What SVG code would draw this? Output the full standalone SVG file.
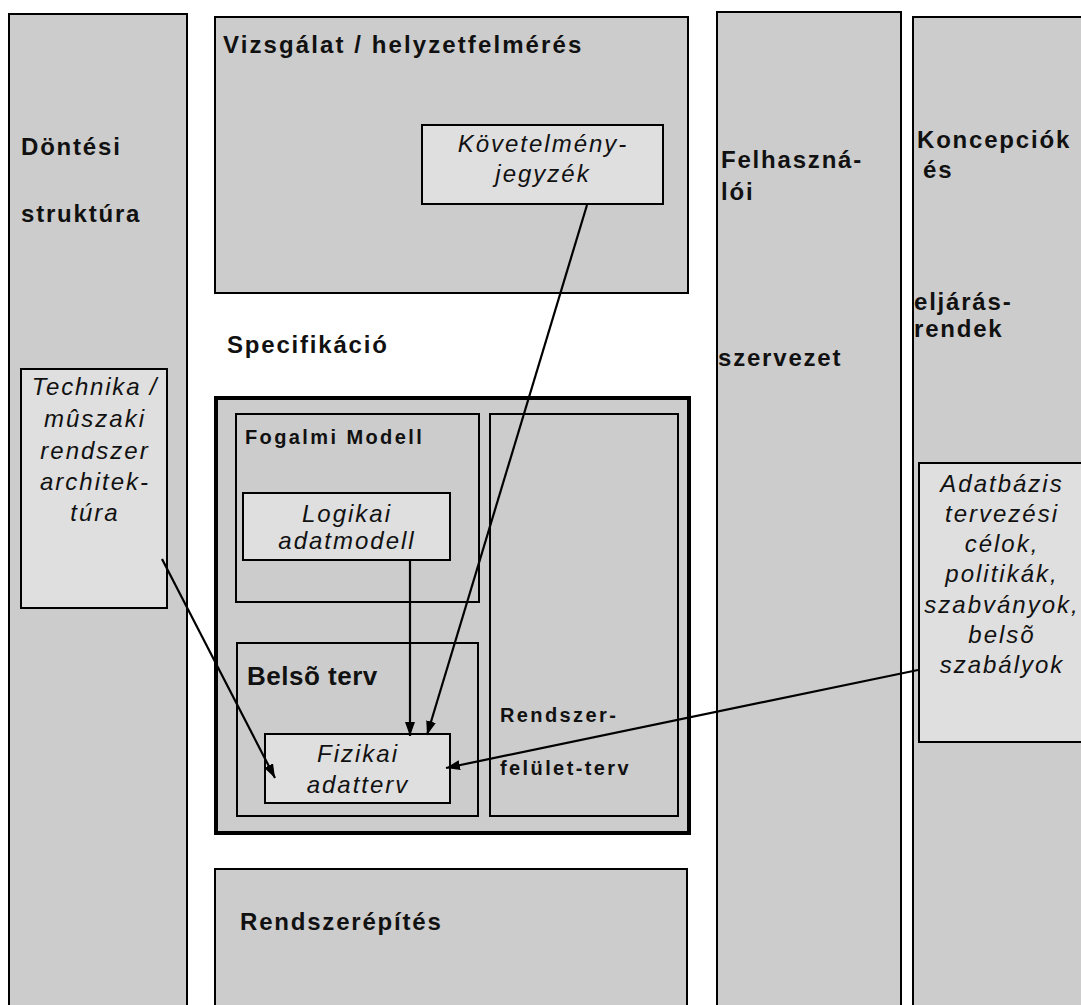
<svg xmlns="http://www.w3.org/2000/svg" width="1081" height="1005" viewBox="0 0 1081 1005">
  <defs>
    <marker id="arrow" markerUnits="userSpaceOnUse" markerWidth="15" markerHeight="11" refX="14" refY="5" orient="auto">
      <path d="M0,0 L14,5 L0,10 Z" fill="#000"/>
    </marker>
    <style>
      .panel { fill: #cccccc; stroke: #000; stroke-width: 2; }
      .frame { fill: #cccccc; stroke: #000; stroke-width: 4; }
      .item  { fill: #dfdfdf; stroke: #000; stroke-width: 2; }
      .lbl   { font-family: "Liberation Sans", Arial, sans-serif; font-weight: bold; font-size: 24px; letter-spacing: 1.8px; fill: #111; }
      .lbl-s { font-size: 20px; letter-spacing: 2.4px; }
      .doc   { font-family: "Liberation Sans", Arial, sans-serif; font-style: italic; font-size: 24px; letter-spacing: 2px; fill: #111; text-anchor: middle; }
      .link  { stroke: #000; stroke-width: 2.2; fill: none; marker-end: url(#arrow); }
    </style>
  </defs>

  <rect width="1081" height="1005" fill="#fff"/>

  <!-- side columns -->
  <g id="dontesi-struktura">
    <rect class="panel" x="9" y="14" width="178" height="1000"/>
    <text class="lbl" x="21" y="155">Döntési</text>
    <text class="lbl" x="21" y="222">struktúra</text>
  </g>

  <g id="felhasznaloi-szervezet">
    <rect class="panel" x="717" y="12" width="184" height="1000"/>
    <text class="lbl" x="721" y="168">Felhaszná-</text>
    <text class="lbl" x="721" y="200">lói</text>
    <text class="lbl" x="718" y="366">szervezet</text>
  </g>

  <g id="koncepciok">
    <rect class="panel" x="913" y="17" width="180" height="1000"/>
    <text class="lbl" x="917" y="148">Koncepciók</text>
    <text class="lbl" x="923" y="178">és</text>
    <text class="lbl" x="914" y="310">eljárás-</text>
    <text class="lbl" x="914" y="337">rendek</text>
  </g>

  <!-- analysis phase -->
  <g id="vizsgalat">
    <rect class="panel" x="215" y="17" width="473" height="276"/>
    <text class="lbl" x="223" y="53" style="letter-spacing:2.1px">Vizsgálat / helyzetfelmérés</text>
  </g>

  <g id="kovetelmenyjegyzek">
    <rect class="item" x="422" y="125" width="241" height="79"/>
    <text class="doc" x="543" y="152">Követelmény-</text>
    <text class="doc" x="543" y="182">jegyzék</text>
  </g>

  <!-- specification phase -->
  <g id="specifikacio">
    <text class="lbl" x="227" y="353" style="letter-spacing:1.8px">Specifikáció</text>
    <rect class="frame" x="216" y="398" width="473" height="435"/>
  </g>

  <g id="fogalmi-modell">
    <rect class="panel" x="236" y="414" width="243" height="188"/>
    <text class="lbl lbl-s" x="245" y="444">Fogalmi Modell</text>
  </g>

  <g id="logikai-adatmodell">
    <rect class="item" x="243" y="493" width="207" height="67"/>
    <text class="doc" x="347" y="522">Logikai</text>
    <text class="doc" x="347" y="549">adatmodell</text>
  </g>

  <g id="belso-terv">
    <rect class="panel" x="237" y="643" width="241" height="173"/>
    <text class="lbl" x="247" y="685" style="font-size:26px;letter-spacing:0.5px">Belsõ terv</text>
  </g>

  <g id="fizikai-adatterv">
    <rect class="item" x="265" y="734" width="185" height="69"/>
    <text class="doc" x="358" y="762">Fizikai</text>
    <text class="doc" x="358" y="793">adatterv</text>
  </g>

  <g id="rendszerfelulet-terv">
    <rect class="panel" x="490" y="414" width="188" height="402"/>
    <text class="lbl lbl-s" x="500" y="722">Rendszer-</text>
    <text class="lbl lbl-s" x="500" y="775">felület-terv</text>
  </g>

  <!-- construction phase -->
  <g id="rendszerepites">
    <rect class="panel" x="215" y="869" width="472" height="150"/>
    <text class="lbl" x="240" y="930">Rendszerépítés</text>
  </g>

  <!-- reference documents -->
  <g id="technika">
    <rect class="item" x="21" y="369" width="146" height="239"/>
    <text class="doc" x="95" y="395" style="letter-spacing:1.8px">Technika /</text>
    <text class="doc" x="95" y="427">mûszaki</text>
    <text class="doc" x="95" y="459">rendszer</text>
    <text class="doc" x="95" y="490">architek-</text>
    <text class="doc" x="95" y="521">túra</text>
  </g>

  <g id="adatbazis-celok">
    <rect class="item" x="919" y="463" width="170" height="279"/>
    <text class="doc" x="1002" y="492">Adatbázis</text>
    <text class="doc" x="1002" y="522">tervezési</text>
    <text class="doc" x="1002" y="552">célok,</text>
    <text class="doc" x="1002" y="582">politikák,</text>
    <text class="doc" x="1002" y="613">szabványok,</text>
    <text class="doc" x="1002" y="643">belsõ</text>
    <text class="doc" x="1002" y="673">szabályok</text>
  </g>

  <!-- connectors -->
  <g id="connectors">
    <line class="link" x1="587" y1="205" x2="427" y2="735"/>
    <line class="link" x1="410" y1="561" x2="410" y2="736"/>
    <line class="link" x1="162" y1="559" x2="275" y2="778"/>
    <line class="link" x1="918" y1="670" x2="446" y2="768"/>
  </g>
</svg>
